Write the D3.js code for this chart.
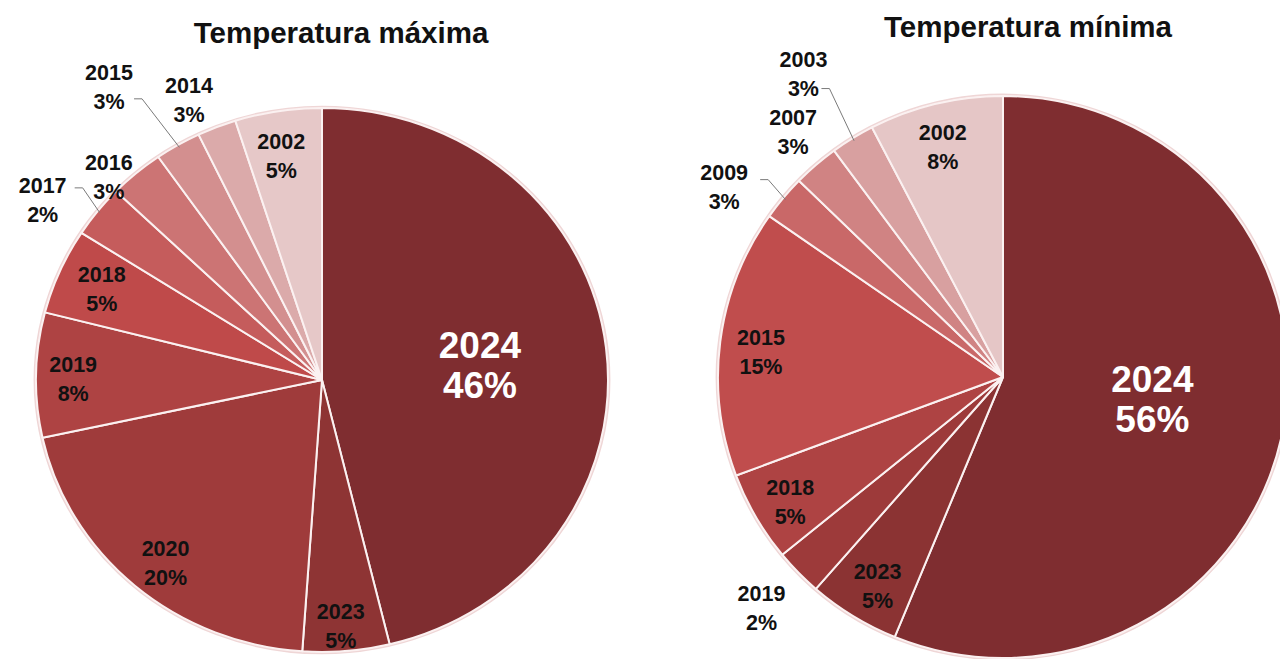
<!DOCTYPE html>
<html>
<head>
<meta charset="utf-8">
<script src="https://cdn.jsdelivr.net/npm/d3@7"></script>
<style>
  body { margin: 0; background: #fff; }
  text { font-family: "Liberation Sans", Arial, sans-serif; font-weight: bold; }
</style>
</head>
<body>
<div id="chart"></div>
<script>
// Temperatura máxima
var maxYears = ['2024', '2023', '2020', '2019', '2018', '2017', '2016', '2015', '2014', '2002'];
var maxShares = [46.2, 4.9, 20.5, 7.4, 5.1, 3.1, 3.1, 2.6, 2.2, 4.9];
var maxPct = ['46%', '5%', '20%', '8%', '5%', '2%', '3%', '3%', '3%', '5%'];

// Temperatura mínima
var minYears = ['2024', '2023', '2019', '2018', '2015', '2009', '2007', '2003', '2002'];
var minShares = [56.2, 5.2, 2.7, 5.2, 15.4, 2.6, 2.6, 2.5, 7.6];
var minPct = ['56%', '5%', '2%', '5%', '15%', '3%', '3%', '3%', '8%'];

var maxColors = ['#7f2d30', '#8e3434', '#9f3b3b', '#ae4343', '#bf4a4a', '#c55c5c', '#cc7474', '#d38f8f', '#dbaaaa', '#e6c8c8'];
var minColors = ['#7f2d30', '#8b3333', '#9d3a3a', '#ae4343', '#c04d4d', '#c96868', '#d08383', '#d8a0a0', '#e5c6c6'];

// label placement: radial factor, angle nudge (deg), leader offset from label centre
var maxLayout = [
    {r: 0.555, da: 1.1, big: true},
    {r: 0.906, da: 0.7},
    {r: 0.868, da: -1.8},
    {r: 0.87, da: -0.8},
    {r: 0.839, da: -0.2},
    {r: 1.18, da: -4.2, leader: [32, -12]},
    {r: 1.056, da: -4.4},
    {r: 1.31, da: -4.4, leader: [25, 12]},
    {r: 1.13, da: -2.7},
    {r: 0.836, da: -1.0}
];
var minLayout = [
    {r: 0.53, da: -2.6, big: true},
    {r: 0.865, da: -1.1},
    {r: 1.18, da: 0},
    {r: 0.87, da: -1},
    {r: 0.854, da: -1.1},
    {r: 1.19, da: -4.9, leader: [36, -7]},
    {r: 1.14, da: 0.8},
    {r: 1.287, da: -1.1, leader: [18, 15]},
    {r: 0.846, da: -0.8}
];

var width = 1280, height = 659;

var svg = d3.select('#chart').append('svg')
    .attr('width', width)
    .attr('height', height);

function drawPie(opts){
    var years = opts.years, shares = opts.shares, pct = opts.pct;
    var R = 100;
    var data = years.map(function(y, i){ return {year: y, value: shares[i], pct: pct[i]}; });
    var pie = d3.pie().sort(null).value(d => d.value);
    var arcs = pie(data);
    var arc = d3.arc().innerRadius(0).outerRadius(R);

    var g = svg.append('g')
        .attr('transform', 'translate(' + opts.cx + ',' + opts.cy + ') scale(' + (opts.rx / R) + ',' + (opts.ry / R) + ')');

    g.append('ellipse')
        .attr('rx', R + 0.5).attr('ry', R + 0.5)
        .attr('fill', 'none')
        .attr('stroke', '#efd6d6')
        .attr('stroke-width', 2)
        .attr('vector-effect', 'non-scaling-stroke');

    g.selectAll('path')
        .data(arcs)
        .join('path')
        .attr('d', arc)
        .attr('fill', d => opts.colors[d.index])
        .attr('stroke', '#fbf1f1')
        .attr('stroke-width', 2)
        .attr('stroke-linejoin', 'round')
        .attr('vector-effect', 'non-scaling-stroke');

    function pt(a, f){
        return [opts.cx + opts.rx * f * Math.sin(a), opts.cy - opts.ry * f * Math.cos(a)];
    }

    var labels = svg.append('g');
    arcs.forEach(function(d){
        var lay = opts.layout[d.index];
        var mid = (d.startAngle + d.endAngle) / 2;
        var p = pt(mid + lay.da * Math.PI / 180, lay.r);
        var fs = lay.big ? 37 : 21.5;
        var gap = lay.big ? 20 : 14.5;
        var t = labels.append('text')
            .attr('text-anchor', 'middle')
            .attr('fill', lay.big ? '#ffffff' : '#111111')
            .style('font-size', fs + 'px');
        t.append('tspan').attr('x', p[0]).attr('y', p[1] - gap).attr('dy', '0.35em').text(d.data.year);
        t.append('tspan').attr('x', p[0]).attr('y', p[1] + gap).attr('dy', '0.35em').text(d.data.pct);

        if (lay.leader){
            var s = pt(mid, 0.99);
            var e = [p[0] + lay.leader[0], p[1] + lay.leader[1]];
            labels.append('path')
                .attr('d', d3.line()([e, [e[0] + 8, e[1]], s]))
                .attr('fill', 'none')
                .attr('stroke', '#7a7a7a')
                .attr('stroke-width', 1);
        }
    });

    svg.append('text')
        .attr('x', opts.titleX)
        .attr('y', opts.titleY)
        .attr('text-anchor', 'middle')
        .attr('fill', '#111111')
        .style('font-size', '29.5px')
        .text(opts.title);
}

drawPie({
    years: maxYears, shares: maxShares, pct: maxPct, colors: maxColors, layout: maxLayout,
    cx: 322, cy: 380, rx: 286, ry: 272,
    title: 'Temperatura máxima', titleX: 341, titleY: 43
});

drawPie({
    years: minYears, shares: minShares, pct: minPct, colors: minColors, layout: minLayout,
    cx: 1003, cy: 377, rx: 285, ry: 281,
    title: 'Temperatura mínima', titleX: 1028, titleY: 37
});
</script>
</body>
</html>
